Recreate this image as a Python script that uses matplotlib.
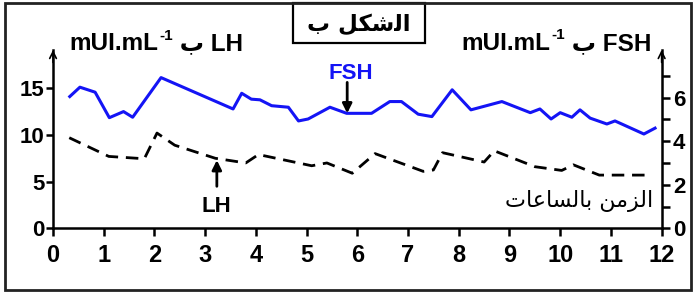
import matplotlib
matplotlib.use('Agg')
import matplotlib.pyplot as plt
from matplotlib.patches import Rectangle

# FSH (right axis) and LH (left axis) vs time in hours
hours_fsh = [0.33, 0.53, 0.83, 1.11, 1.39, 1.57, 2.13, 3.55, 3.72, 3.91, 4.08, 4.31,
             4.64, 4.84, 5.03, 5.46, 5.79, 6.28, 6.64, 6.87, 7.20, 7.47, 7.87, 8.24,
             8.85, 9.41, 9.60, 9.82, 10.00, 10.23, 10.39, 10.59, 10.92, 11.08, 11.65, 11.87]
fsh = [6.05, 6.48, 6.25, 5.08, 5.36, 5.10, 6.92, 5.48, 6.20, 5.93, 5.90, 5.63,
       5.56, 4.93, 5.02, 5.56, 5.28, 5.28, 5.82, 5.82, 5.24, 5.13, 6.36, 5.44,
       5.82, 5.31, 5.48, 5.02, 5.31, 5.10, 5.44, 5.06, 4.79, 4.93, 4.33, 4.60]

hours_lh = [0.32, 1.10, 1.80, 2.05, 2.40, 3.20, 3.80, 4.05, 5.10, 5.40, 5.90,
            6.35, 7.30, 7.50, 7.68, 8.50, 8.70, 9.50, 10.03, 10.26, 10.77, 11.80]
lh = [9.7, 7.7, 7.45, 10.2, 8.9, 7.5, 7.0, 7.9, 6.7, 7.0, 5.9,
      8.0, 6.1, 6.25, 8.1, 7.1, 8.3, 6.6, 6.2, 6.8, 5.7, 5.7]

x_ticks = list(range(13))
left_ticks = [0, 5, 10, 15]
right_ticks = list(range(8))
right_labels = ['0', '', '2', '', '4', '', '6', '']

# Arabic text, pre-shaped (presentation forms) in visual order
title_ar = '\uFE8F \uFEDE\uFEDC\uFEB7\uFEDF\uFE8D'   # الشكل ب
time_ar = '\uFE95\uFE8E\uFECB\uFE8E\uFEB4\uFEDF\uFE8E\uFE91 \uFEE6\uFEE3\uFEB0\uFEDF\uFE8D'  # الزمن بالساعات
ba = '\uFE8F'

latin = ['Liberation Sans', 'DejaVu Sans']
plt.rcParams['font.family'] = latin
plt.rcParams['font.weight'] = 'bold'

fig = plt.figure(figsize=(6.95, 2.92), dpi=100)
ax = fig.add_axes([0.0763, 0.218, 0.8757, 0.611])
ax2 = ax.twinx()

ax.plot(hours_lh, lh, color='black', lw=2, linestyle=(0, (4.5, 2.8)))
ax2.plot(hours_fsh, fsh, color='#1414f5', lw=2.2)

ax.set_xlim(0, 12)
ax.set_ylim(0, 19.1)
ax2.set_ylim(0, 8.19)

for a in (ax, ax2):
    a.spines['top'].set_visible(False)
    for s in a.spines.values():
        s.set_linewidth(1.8)
ax2.spines['left'].set_visible(False)
ax2.spines['bottom'].set_visible(False)
ax.spines['right'].set_visible(False)

ax.set_xticks(x_ticks)
ax.set_xticklabels([str(t) for t in x_ticks], fontsize=17, fontweight='bold')
ax.tick_params(axis='x', direction='out', length=6, width=1.8, pad=5)
ax.set_yticks(left_ticks)
ax.set_yticklabels([str(t) for t in left_ticks], fontsize=16, fontweight='bold')
ax.tick_params(axis='y', direction='out', length=5, width=1.8, pad=1)
ax2.set_yticks(right_ticks)
ax2.set_yticklabels(right_labels, fontsize=16, fontweight='bold')
ax2.tick_params(axis='y', direction='out', length=6, width=1.8, pad=2)

# arrow heads on top of the vertical axes
for xf in (0, 1):
    ax.annotate('', xy=(xf, 1.0), xytext=(xf, 0.93), xycoords='axes fraction',
                arrowprops=dict(arrowstyle='->', lw=1.2, color='black',
                                mutation_scale=12, shrinkA=0, shrinkB=0))

# curve labels
ax2.annotate('', xy=(5.8, 5.28), xytext=(5.8, 6.7),
             arrowprops=dict(arrowstyle='-|>', lw=2, color='black',
                             mutation_scale=14, shrinkA=0, shrinkB=0))
ax2.text(5.88, 7.1, 'FSH', color='#1414f5', fontsize=16, fontweight='bold',
         ha='center', va='center')
ax.annotate('', xy=(3.23, 7.3), xytext=(3.23, 4.5),
            arrowprops=dict(arrowstyle='-|>', lw=2, color='black',
                            mutation_scale=14, shrinkA=0, shrinkB=0))
ax.text(3.23, 2.3, 'LH', fontsize=16, fontweight='bold', ha='center', va='center')

ax.text(0.987, 0.155, time_ar, transform=ax.transAxes, family=['DejaVu Sans'],
        fontweight='normal', fontsize=16, ha='right', va='center')

# axis titles: "unit ب hormone", built in pieces for the superscript
def unit_label(x, y, hormone):
    t1 = fig.text(x, y, 'mUI.mL', fontsize=17.5, fontweight='bold', ha='left', va='bottom')
    t2 = ax.annotate('-1', xy=(1, 0.55), xycoords=t1, fontsize=11, fontweight='bold',
                     ha='left', va='bottom', xytext=(1, 0), textcoords='offset points')
    ax.annotate(' ' + ba + ' ' + hormone, xy=(1, 0), xycoords=(t2, t1), fontsize=17.5,
                fontweight='bold', ha='left', va='bottom', family=latin)

unit_label(0.1, 0.81, 'LH')
unit_label(0.664, 0.812, 'FSH')

# title box
fig.patches.append(Rectangle((0.4216, 0.853), 0.19, 0.137, transform=fig.transFigure,
                             fill=False, lw=1.6, edgecolor='black'))
fig.text(0.5165, 0.918, title_ar, family=['DejaVu Sans'], fontsize=16.5, fontweight='bold',
         ha='center', va='center')

# outer frame
fig.patches.append(Rectangle((0.007, 0.007), 0.987, 0.983, transform=fig.transFigure,
                             fill=False, lw=2, edgecolor='#222222'))

fig.savefig('out.png', dpi=100)
